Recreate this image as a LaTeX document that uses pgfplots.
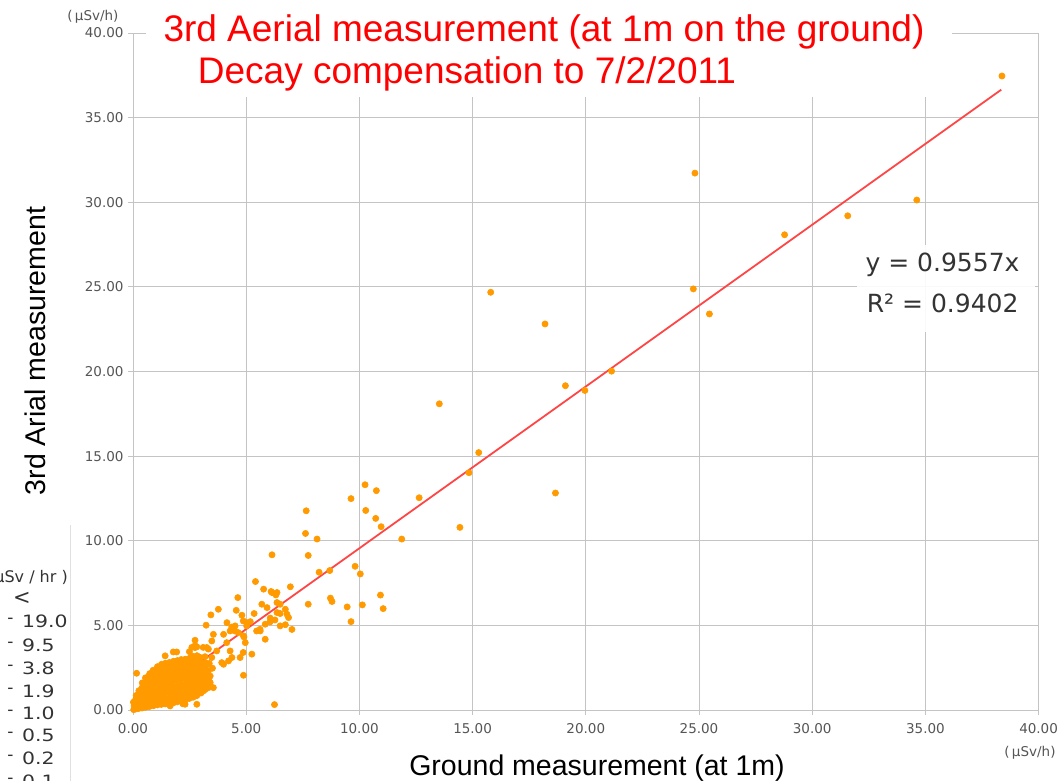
\documentclass[border=0pt]{standalone}
\usepackage{pgfplots}
\pgfplotsset{compat=1.18}
\usepackage{fontspec}
\setmainfont{Liberation Sans}
\newfontfamily\tickfont{DejaVu Sans}

\definecolor{dotorange}{HTML}{FF9A00}
\definecolor{fitred}{HTML}{FF4646}
\definecolor{gridgray}{HTML}{C4C4C4}
\definecolor{labelgray}{HTML}{555555}
\definecolor{titlered}{HTML}{FF0000}
\definecolor{legendgray}{HTML}{333333}

% ground (x) vs. aerial (y) dose rate, uSv/h
\pgfplotstableread{
x y
0.03 0.02
0.05 0.24
0.02 0.46
0.12 0.06
0.13 0.31
0.11 0.60
0.14 0.86
0.25 0.09
0.24 0.36
0.27 0.63
0.23 0.90
0.26 1.14
0.40 0.12
0.41 0.43
0.38 0.71
0.42 1.00
0.39 1.30
0.41 1.60
0.55 0.16
0.56 0.45
0.54 0.76
0.57 1.05
0.53 1.36
0.56 1.65
0.55 1.90
0.72 0.20
0.73 0.51
0.70 0.80
0.74 1.11
0.71 1.40
0.73 1.70
0.70 2.00
0.74 2.15
0.90 0.25
0.91 0.56
0.89 0.85
0.92 1.16
0.88 1.45
0.91 1.75
0.90 2.05
0.89 2.35
1.08 0.30
1.07 0.61
1.10 0.90
1.06 1.21
1.09 1.50
1.08 1.80
1.07 2.10
1.10 2.40
1.08 2.56
1.25 0.33
1.26 0.65
1.23 0.96
1.27 1.25
1.24 1.56
1.26 1.85
1.25 2.15
1.23 2.45
1.26 2.70
1.42 0.36
1.43 0.68
1.40 1.00
1.44 1.31
1.41 1.60
1.43 1.90
1.42 2.21
1.40 2.50
1.43 2.76
1.60 0.38
1.61 0.70
1.58 1.02
1.62 1.35
1.59 1.66
1.61 1.95
1.60 2.25
1.58 2.55
1.61 2.81
1.78 0.42
1.79 0.75
1.76 1.05
1.80 1.38
1.77 1.70
1.79 2.00
1.78 2.30
1.76 2.60
1.79 2.88
1.95 0.48
1.96 0.80
1.93 1.10
1.97 1.42
1.94 1.75
1.96 2.05
1.95 2.35
1.93 2.65
1.96 2.92
2.12 0.52
2.13 0.85
2.10 1.15
2.14 1.48
2.11 1.80
2.13 2.10
2.12 2.40
2.10 2.70
2.13 2.98
2.30 0.60
2.31 0.90
2.28 1.20
2.32 1.52
2.29 1.85
2.31 2.15
2.30 2.45
2.28 2.75
2.31 3.00
2.48 0.68
2.49 0.98
2.46 1.28
2.50 1.60
2.47 1.90
2.49 2.20
2.48 2.50
2.46 2.80
2.49 3.05
2.65 0.75
2.66 1.05
2.63 1.35
2.67 1.65
2.64 1.95
2.66 2.25
2.65 2.55
2.63 2.85
2.66 3.10
2.82 0.85
2.83 1.15
2.80 1.45
2.84 1.75
2.81 2.05
2.83 2.35
2.82 2.65
2.80 2.95
2.83 3.20
3.00 1.00
3.01 1.30
2.98 1.60
3.02 1.90
2.99 2.20
3.01 2.50
3.00 2.80
2.98 3.10
3.18 1.20
3.19 1.55
3.16 1.85
3.20 2.15
3.17 2.45
3.19 2.80
3.18 3.15
3.35 1.50
3.36 1.90
3.33 2.30
3.37 2.75
0.16 2.17
1.78 3.43
1.93 3.43
1.42 3.20
2.82 3.20
2.60 3.70
2.74 3.80
1.64 0.24
2.20 0.37
2.82 0.34
2.74 0.83
2.38 0.83
2.30 0.34
3.33 1.72
3.55 1.32
3.41 1.62
3.33 1.32
3.10 1.12
2.82 1.02
2.52 1.91
2.96 1.91
3.41 2.01
2.74 2.11
2.30 2.70
2.96 2.60
2.96 2.80
3.33 2.70
3.19 2.31
3.51 2.47
2.45 2.64
4.88 2.05
6.25 0.32
2.74 4.12
3.48 4.08
4.14 3.98
4.96 3.98
5.84 4.18
4.90 4.32
2.74 3.69
3.26 3.69
3.10 3.70
3.33 3.60
3.70 3.49
4.29 3.49
4.87 3.40
5.25 3.30
2.60 3.20
3.48 3.10
4.37 3.10
4.73 3.10
3.92 2.80
4.00 2.70
4.22 2.90
2.49 3.45
2.82 3.73
3.55 4.47
4.00 4.47
4.29 4.67
4.50 4.67
4.65 4.57
4.88 4.38
5.46 4.67
5.61 4.77
5.62 4.67
3.23 5.01
4.15 5.16
4.36 4.90
4.51 4.97
4.87 5.26
5.02 4.97
5.03 5.16
5.84 5.07
6.50 4.97
6.73 5.04
7.02 4.76
3.44 5.62
4.81 5.60
5.35 5.70
6.36 5.76
6.06 5.43
6.27 5.32
6.05 5.20
6.80 5.66
6.50 5.70
6.87 5.46
5.18 5.22
3.77 5.95
4.56 5.89
6.73 5.95
5.69 6.25
5.92 6.05
6.50 6.25
6.36 6.35
4.63 6.64
6.14 6.94
6.36 6.94
6.31 6.80
6.10 7.00
5.77 7.14
6.95 7.28
5.41 7.59
6.14 9.17
7.74 9.13
7.65 11.77
7.62 10.43
8.13 10.10
10.25 13.31
10.75 12.96
9.63 12.49
12.64 12.54
10.28 11.79
10.72 11.32
10.96 10.83
14.44 10.79
11.87 10.10
8.22 8.14
8.69 8.24
9.81 8.49
10.04 8.04
10.93 6.79
7.74 6.25
8.72 6.61
8.79 6.41
9.46 6.09
10.13 6.21
11.05 5.99
9.63 5.22
13.53 18.09
15.27 15.21
14.84 14.02
18.66 12.82
19.10 19.16
19.96 18.88
21.14 20.02
15.80 24.68
18.20 22.81
24.75 24.88
25.46 23.40
28.78 28.08
31.57 29.20
34.62 30.13
24.82 31.72
38.38 37.46
}\aerialdata

\begin{document}
\begin{tikzpicture}
% page: the plot origin sits 133bp from the left and 71bp above the bottom edge
\clip (-133bp,-71bp) rectangle (929bp,710bp);
\begin{axis}[
  at={(0bp,0bp)}, anchor=south west,
  scale only axis,
  width=905.6bp, height=677bp,
  xmin=0, xmax=40, ymin=0, ymax=40,
  xtick={0,5,...,40}, ytick={0,5,...,40},
  grid=major,
  major grid style={draw=gridgray, line width=0.9bp},
  axis line style={draw=gridgray, line width=0.9bp},
  tick style={draw=gridgray, line width=0.9bp},
  major tick length=5bp,
  tick align=outside,
  tick pos=left,
  ticklabel style={font=\tickfont\fontsize{13.5bp}{16bp}\selectfont, text=labelgray},
  xticklabel style={yshift=-5bp},
  yticklabel style={xshift=-1bp},
  /pgf/number format/fixed,
  /pgf/number format/fixed zerofill,
  /pgf/number format/precision=2,
  /pgf/number format/assume math mode=true,
]
\addplot[only marks, color=dotorange, mark=*, mark size=3.1bp,
  mark options={draw=dotorange, fill=dotorange, line width=0.6bp}]
  table[x=x, y=y] {\aerialdata};
\addplot[fitred, line width=1.8bp] coordinates {(0,0) (38.35,36.65)};
\end{axis}

% white box behind the title
\fill[white] (13bp,613bp) rectangle (819bp,706bp);
\node[anchor=base, text=titlered, font=\fontsize{37bp}{44bp}\selectfont]
  at (411bp,668bp) {3rd Aerial measurement (at 1m on the ground)};
\node[anchor=base, text=titlered, font=\fontsize{37bp}{44bp}\selectfont]
  at (334bp,626bp) {Decay compensation to 7/2/2011};

% fit equation
\fill[white, fill opacity=0.9] (724bp,378bp) rectangle (902bp,465bp);
\node[anchor=base east, text=legendgray, font=\tickfont\fontsize{25bp}{29bp}\selectfont]
  at (890bp,438bp) {y = 0.9557x};
\node[anchor=base east, text=legendgray, font=\tickfont\fontsize{25bp}{29bp}\selectfont]
  at (889bp,397bp) {R² = 0.9402};

% axis titles
\node[rotate=90, font=\fontsize{28.5bp}{34bp}\selectfont]
  at (-98bp,359bp) {3rd Arial measurement};
\node[anchor=base, font=\fontsize{28.5bp}{34bp}\selectfont]
  at (464bp,-65bp) {Ground measurement (at 1m)};

% units
\node[text=labelgray, font=\tickfont\fontsize{13.5bp}{16bp}\selectfont]
  at (-40bp,693bp) {(\,μSv/h)};
\node[text=labelgray, font=\tickfont\fontsize{13.5bp}{16bp}\selectfont]
  at (897bp,-43bp) {(\,μSv/h)};

% dose-rate scale of the map beside the chart
\draw[draw=black!12, line width=0.8bp] (-63bp,185bp) -- (-63bp,-71bp);
\begin{scope}[every node/.style={text=legendgray, inner sep=0pt}]
\node[anchor=east, font=\tickfont\fontsize{16bp}{19bp}\selectfont]
  at (-65bp,132bp) {(μSv / hr )};
\node[font=\tickfont\fontsize{21bp}{24bp}\selectfont] at (-111bp,112bp) {<};
\foreach \yy/\val in {89/19.0, 65/9.5, 42/3.8, 19/1.9, -3/1.0, -25/0.5, -48/0.2, -71/0.1}{
  \node[font=\tickfont\fontsize{17bp}{20bp}\selectfont] at (-122.5bp,\yy bp) {-};
  \node[anchor=west, font=\tickfont\fontsize{17bp}{20bp}\selectfont]
    at (-111bp,\yy bp) {\scalebox{1.2}[1]{\val}};
}
\end{scope}
\end{tikzpicture}
\end{document}
